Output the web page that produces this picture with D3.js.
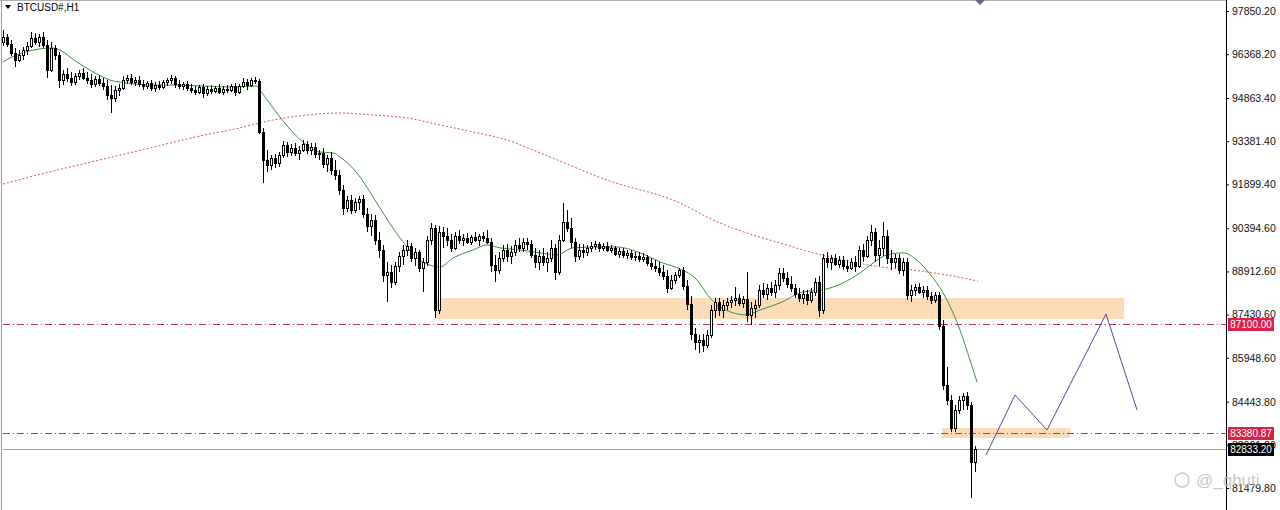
<!DOCTYPE html>
<html><head><meta charset="utf-8">
<script src="https://cdn.jsdelivr.net/npm/d3@7"></script>
<style>
body{margin:0;background:#fff;overflow:hidden}
svg{display:block}
text{font-family:"Liberation Sans",Arial,sans-serif}
</style>
</head><body>
<svg id="chart" width="1280" height="510"></svg>
<script>
const symbolTitle = "BTCUSD#,H1";

// H1 candles: [open, high, low, close]
const candles = [
[96790,97200,96650,96960],[96960,97060,96620,96720],[96720,96860,96310,96410],[96410,96580,95930,96170],
[96170,96510,96100,96340],[96340,96620,96170,96510],[96510,96790,96340,96650],[96650,97130,96580,96920],
[96920,97100,96680,96790],[96790,97060,96620,96960],[96960,97130,96580,96680],[96680,96860,95550,95830],
[95830,96790,95760,96580],[96580,96680,96170,96340],[96340,96440,95210,95480],
[95480,95830,95310,95690],[95690,95890,95410,95550],[95550,95760,95280,95410],[95410,95720,95310,95620],
[95620,95830,95480,95720],[95720,95890,95480,95550],[95550,95760,95350,95480],[95480,95690,95210,95350],
[95350,95620,95240,95520],[95520,95650,95280,95380],[95380,95550,95140,95280],[95280,95480,94800,94970],
[94970,95310,94350,94860],[94860,95280,94730,95140],[95140,95350,94930,95210],[95210,95620,95140,95480],
[95480,95650,95350,95550],[95550,95690,95310,95410],[95410,95590,95280,95480],[95480,95620,95240,95350],
[95350,95480,95140,95280],[95280,95450,95170,95380],[95380,95480,95100,95210],[95210,95410,95070,95310],
[95310,95450,95140,95240],[95240,95480,95170,95410],[95410,95550,95280,95480],[95480,95650,95350,95550],
[95550,95620,95210,95350],[95350,95480,95170,95280],[95280,95410,95140,95350],[95350,95450,95100,95210],
[95210,95350,95040,95140],[95140,95280,94970,95070],[95070,95310,95000,95240],[95240,95350,94860,95040],
[95040,95280,94930,95170],[95170,95310,95000,95100],[95100,95280,95040,95210],[95210,95350,95000,95070],
[95070,95280,94970,95170],[95170,95310,95040,95140],[95140,95350,95070,95280],[95280,95380,94930,95070],
[95070,95350,95000,95280],[95280,95550,95210,95410],[95410,95520,95140,95310],[95310,95550,95240,95480],
[95480,95590,95350,95450],[95450,95520,93630,93700],[93700,93840,91950,92740],
[92740,93080,92330,92570],[92570,92910,92390,92810],[92810,92940,92460,92630],[92630,93010,92500,92910],
[92910,93390,92810,93250],[93250,93350,92840,93010],[93010,93290,92870,93150],[93150,93320,92870,92980],
[92980,93220,92740,93080],[93080,93420,93010,93290],[93290,93390,92940,93080],[93080,93320,92910,93180],
[93180,93320,92810,92940],[92940,93080,92740,92980],[92980,93150,92460,92600],[92600,92910,92330,92810],
[92810,93010,92220,92390],[92390,92740,92050,92220],[92220,92390,91540,91710],[91710,91880,90850,91090],
[91090,91500,90950,91360],[91360,91540,90880,91020],[91020,91430,90920,91300],[91300,91500,91020,91400],
[91400,91540,90750,90880],[90880,91090,90270,90470],[90470,90880,90130,90680],[90680,90850,89820,89990],
[89990,90270,89370,89650],[89650,89820,88550,88790],[88790,89240,87860,88890],[88890,89130,88340,88550],
[88550,89240,88450,89100],[89100,89580,88890,89440],[89440,89820,89130,89650],[89650,89990,89440,89790],
[89790,89890,89240,89370],[89370,89720,89100,89580],[89580,89650,88890,89030],[89030,89370,88210,89240],
[89240,90130,89100,89990],[89990,90580,89820,90400],[90400,90510,87310,87590],[87590,90470,87450,90270],
[90270,90440,89720,90130],[90130,90400,89790,89990],[89990,90200,89580,89720],[89720,90270,89650,90130],
[90130,90330,89850,89990],[89990,90200,89790,90060],[90060,90230,89850,89920],[89920,90160,89820,90090],
[90090,90270,89920,89990],[89990,90200,89790,90130],[90130,90270,89920,90060],[90060,90330,89850,89920],
[89920,90060,88890,89130],[89130,89480,88550,88960],[88960,89580,88820,89370],[89370,89820,89240,89650],
[89650,89850,89240,89440],[89440,89790,89170,89580],[89580,89990,89440,89820],[89820,90060,89580,89720],
[89720,90060,89580,89920],[89920,90060,89650,89850],[89850,89990,89370,89480],[89480,89720,89030,89240],
[89240,89650,88960,89440],[89440,89720,89100,89240],[89240,89580,88890,89370],[89370,89990,89240,89720],
[89720,89850,88620,88890],[88890,90160,88790,89990],[89990,91260,89920,90610],[90610,91020,90270,90400],
[90400,90750,89720,89920],[89920,90060,89240,89440],[89440,89850,89300,89650],[89650,89850,89370,89580],
[89580,89820,89440,89720],[89720,89920,89580,89790],[89790,89960,89650,89850],[89850,89920,89580,89720],
[89720,89890,89610,89790],[89790,89920,89580,89650],[89650,89820,89550,89720],[89720,89790,89440,89510],
[89510,89720,89370,89610],[89610,89720,89370,89480],[89480,89650,89340,89550],[89550,89650,89300,89410],
[89410,89580,89270,89440],[89440,89580,89240,89340],[89340,89550,89240,89410],[89410,89480,89100,89200],
[89200,89370,88960,89100],[89100,89300,88890,89030],[89030,89240,88760,88890],[88890,89130,88620,88760],
[88760,88960,88170,88340],[88340,88790,88280,88620],[88620,88890,88480,88790],[88790,89030,88690,88960],
[88960,89070,88280,88410],[88410,88620,87590,87800],[87800,88070,86560,86770],[86770,86970,86220,86490],
[86490,86730,86110,86560],[86560,86770,86150,86390],[86390,86900,86290,86730],[86730,87760,86630,87590],
[87590,88000,87310,87860],[87860,88000,87380,87590],[87590,87930,87310,87760],[87760,88000,87590,87860],
[87860,88070,87660,87930],[87930,88380,87730,88000],[88000,88140,87730,87830],[87830,88070,87660,87970],
[87970,88890,87180,87420],[87420,87860,87070,87660],[87660,87930,87310,87760],[87760,88450,87660,88280],
[88280,88520,88000,88140],[88140,88480,87930,88340],[88340,88550,88070,88210],[88210,88620,88000,88450],
[88450,89030,88280,88860],[88860,89030,88550,88690],[88690,88890,88340,88480],[88480,88760,88210,88340],
[88340,88480,88000,88140],[88140,88340,87860,88000],[88000,88280,87800,88140],[88140,88280,87760,87930],
[87930,88340,87830,88210],[88210,88690,88070,88550],[88550,88760,87350,87590],[87590,89510,87450,89370],
[89370,89580,89030,89240],[89240,89480,88960,89370],[89370,89510,89100,89170],[89170,89440,89030,89300],
[89300,89440,88960,89100],[89100,89300,88890,89030],[89030,89370,88960,89240],[89240,89440,88890,89100],
[89100,89790,89030,89650],[89650,89850,89240,89440],[89440,90130,89370,89990],[89990,90510,89790,90270],
[90270,90400,89240,89480],[89480,89990,89100,89720],[89720,90610,89440,90130],[90130,90330,89170,89370],
[89370,89650,88960,89240],[89240,89510,89030,89370],[89370,89510,88820,88960],[88960,89370,88760,89240],
[89240,89370,87930,88100],[88100,88450,87860,88280],[88280,88480,88070,88380],[88380,88520,88140,88210],
[88210,88410,88000,88280],[88280,88410,87930,88070],[88070,88210,87800,87930],[87930,88210,87830,88100],
[88100,88210,86900,87040],[87040,87250,84840,85020],[85020,85630,84330,84500],[84500,84670,83400,83540],
[83540,84330,83400,84160],[84160,84640,84020,84500],[84500,84740,84160,84640],[84640,84780,84160,84330],
[84330,84430,81140,82370],[82370,82920,82030,82833.2]
];

// moving averages: [bar index, price]
const maFast = [
[0,96100],[1.75,96240],[5.5,96440],[12.5,96580],[18.5,96100],[22.5,95760],[26.75,95480],[31,95380],
[36.75,95310],[42.5,95310],[49.25,95280],[57.5,95240],[63.5,95280],[64.25,95140],[70,94080],[75,93350],
[79.25,93010],[82.5,92980],[84.25,92840],[88.5,92290],[92.5,91470],[94.25,91090],[99.25,90060],
[104.25,89300],[109.25,89070],[112.5,89370],[117.5,89650],[121,89820],[124.25,89720],[129.25,89650],
[134.25,89550],[138.5,89480],[142.5,89720],[148.5,89750],[153.5,89750],[159.25,89550],[165,89200],
[169.25,89000],[173.5,88620],[176.75,88000],[179.25,87690],[186,87420],[189.25,87590],[194.25,87830],
[200,88210],[205,88280],[210,88520],[214.25,88860],[217.5,89200],[221,89480],[225,89550],[229.25,89200],
[232.5,88690],[236,87930],[239.25,86900],[241.75,85870],[243.5,85120]
];
const maSlow = [
[0,91910],[11.75,92330],[24.25,92740],[36.75,93150],[49.25,93560],[59.25,93840],[67.5,94110],[76,94280],
[84.25,94350],[92.5,94280],[101,94180],[109.25,93940],[117.5,93700],[126,93420],[134.25,92980],
[151,92050],[169.25,91260],[177.5,90680],[186,90230],[194.25,89890],[202.5,89550],[206.75,89410],
[219.25,89070],[227.5,88960],[236,88790],[243.75,88580]
];

// projected path drawn on chart: [bar index, price]
const projection = [[245.75,82610],[253,84670],[261,83470],[275.75,87450],[283.5,84160]];

// supply/demand zones
const zones = [
  {from:108.25, to:280.25, top:88000, bottom:87280},
  {from:234.75, to:266.75, top:83540, bottom:83200}
];

// horizontal levels
const levels = [
  {price:87100.00, label:"87100.00", kind:"alert"},
  {price:83380.87, label:"83380.87", kind:"alert"},
  {price:82833.20, label:"82833.20", kind:"bid"}
];

const priceTicks = [97850.20,96368.20,94863.40,93381.40,91899.40,90394.60,88912.60,87430.60,85948.60,84443.80,82961.80,81479.80];

const W = 1280, H = 510, axisX = 1226;
const svg = d3.select("#chart");

const x = d3.scaleLinear().domain([0, 305.75]).range([3, axisX]);
const y = d3.scaleLinear().domain([98227.7, 80724.8]).range([0, H]);

svg.append("defs").append("clipPath").attr("id","plot")
  .append("rect").attr("x",0).attr("y",0).attr("width",axisX).attr("height",H);

const plot = svg.append("g").attr("clip-path","url(#plot)");

// frame
svg.append("line").attr("x1",1.5).attr("x2",1.5).attr("y1",0).attr("y2",H).attr("stroke","#9a9a9a");
svg.append("line").attr("x1",0).attr("x2",axisX).attr("y1",0.5).attr("y2",0.5).attr("stroke","#b0b0b0");

// zones
plot.selectAll("rect.zone").data(zones).join("rect").attr("class","zone")
  .attr("x", d=>x(d.from)).attr("width", d=>x(d.to)-x(d.from))
  .attr("y", d=>y(d.top)).attr("height", d=>y(d.bottom)-y(d.top))
  .attr("fill","#fcdcb8");

// level lines
plot.selectAll("line.level").data(levels).join("line").attr("class","level")
  .attr("x1",3).attr("x2",axisX)
  .attr("y1",d=>Math.round(y(d.price))+0.5).attr("y2",d=>Math.round(y(d.price))+0.5)
  .attr("stroke",d=>d.kind==="bid"?"#97a1b4":"#b03a62")
  .attr("stroke-width",1)
  .attr("stroke-dasharray",d=>d.kind==="bid"?null:"7,3,1,3");

// moving averages
const line = d3.line().x(d=>x(d[0])).y(d=>y(d[1])).curve(d3.curveMonotoneX);
plot.append("path").datum(maSlow).attr("d",line).attr("fill","none")
  .attr("stroke","#d9534f").attr("stroke-width",1).attr("stroke-dasharray","2,2");
plot.append("path").datum(maFast).attr("d",line).attr("fill","none")
  .attr("stroke","#3f8f3f").attr("stroke-width",1);

// candles
const cg = plot.append("g").attr("shape-rendering","crispEdges");
const cand = cg.selectAll("g").data(candles).join("g");
cand.append("line")
  .attr("x1",(d,i)=>Math.round(x(i))+0.5).attr("x2",(d,i)=>Math.round(x(i))+0.5)
  .attr("y1",d=>y(d[1])).attr("y2",d=>y(d[2])).attr("stroke","#000");
cand.append("rect")
  .attr("x",(d,i)=>Math.round(x(i))-0.5)
  .attr("width",2)
  .attr("y",d=>Math.round(y(Math.max(d[0],d[3])))+0.5)
  .attr("height",d=>Math.max(1,Math.round(Math.abs(y(d[0])-y(d[3])))))
  .attr("fill",d=>d[3]>=d[0]?"#fff":"#000")
  .attr("stroke","#000").attr("stroke-width",1);

// projection
plot.append("path").datum(projection).attr("d",d3.line().x(d=>x(d[0])).y(d=>y(d[1])))
  .attr("fill","none").attr("stroke","#4b4d9c").attr("stroke-width",1);

// top marker
svg.append("path").attr("d","M975,0L985,0L980,5Z").attr("fill","#5d6b82");

// axis
const axis = d3.axisRight(y).tickValues(priceTicks).tickFormat(d3.format(".2f")).tickSize(3).tickSizeOuter(0);
const ag = svg.append("g").attr("transform",`translate(${axisX},0)`).call(axis);
ag.select(".domain").attr("stroke","#000").attr("d",`M0.5,0V${H}`);
ag.selectAll(".tick line").attr("stroke","#000");
ag.selectAll(".tick text").attr("fill","#111").style("font-size","10.5px").style("font-family","'Liberation Sans',Arial,sans-serif");

// level labels
const lab = svg.selectAll("g.lab").data(levels).join("g").attr("class","lab")
  .attr("transform",d=>`translate(${axisX+2},${Math.round(y(d.price))})`);
lab.append("rect").attr("x",0).attr("y",-6).attr("width",46).attr("height",13)
  .attr("fill",d=>d.kind==="bid"?"#000":"#dc2149");
lab.append("text").attr("x",23).attr("y",4).attr("text-anchor","middle").text(d=>d.label)
  .attr("fill","#fff").style("font-size","10px");

// title
svg.append("path").attr("d","M5,5L11,5L8,9Z").attr("fill","#000");
svg.append("text").attr("x",17).attr("y",11).text(symbolTitle).attr("fill","#000").style("font-size","10px");

// watermark
svg.append("circle").attr("cx",1182).attr("cy",480).attr("r",7).attr("fill","none").attr("stroke","#c9c9c9").attr("stroke-width",1.5);
svg.append("text").attr("x",1196).attr("y",486).text("@_qhuti").attr("fill","#bdbdbd").attr("opacity",0.85).style("font-size","17px");
</script>
</body></html>
